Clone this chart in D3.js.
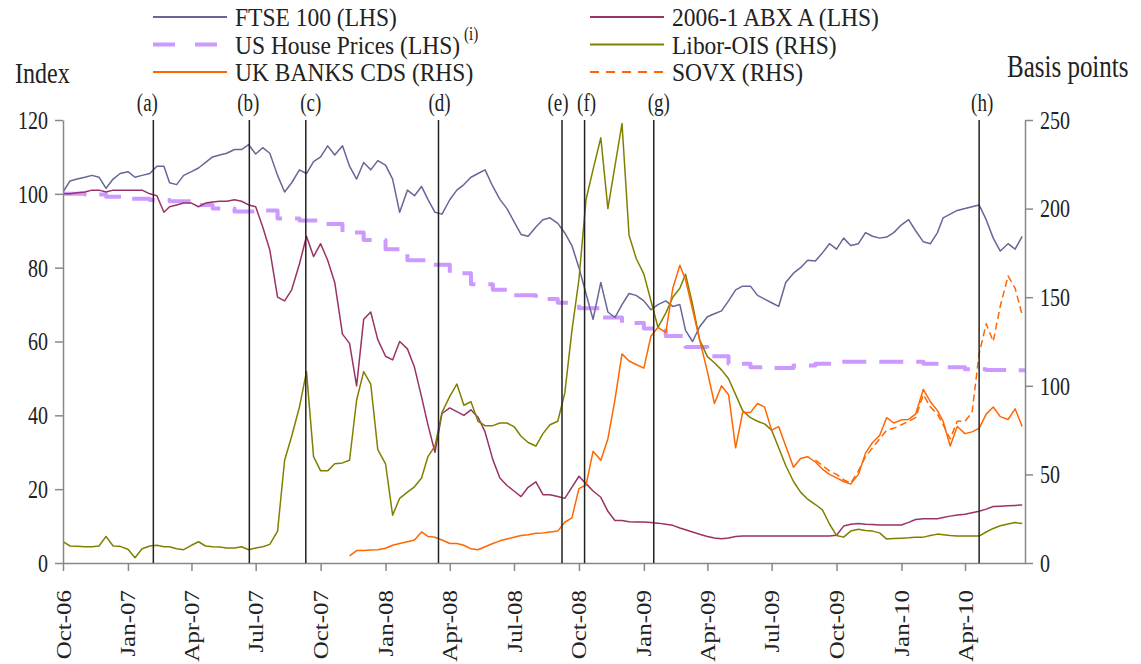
<!DOCTYPE html>
<html>
<head>
<meta charset="utf-8">
<script src="https://cdn.jsdelivr.net/npm/d3@7"></script>
<style>
  body { margin: 0; background: #fff; }
  svg { display: block; font-family: 'Liberation Serif', 'Times New Roman', serif; }
</style>
</head>
<body>
<svg id="chart"></svg>
<script>
// ---- data ----
// readings on the 1st, 11th and 21st of each month, Oct-06 .. Jun-10
let firstMonth = '2006-10', monthCount = 45;

let ftse = [ // index, LHS
  100.5, 103.5, 104,   104.5, 105, 104.5,   101.5, 104, 105.5,
  106, 104.5, 105,   105.5, 107.5, 107.5,   103, 102.5, 105,   106, 107, 108.5,
  110, 110.5, 111,   112, 112, 113.3,   110.8, 112.5, 111,   105, 100.5, 103,
  106.5, 105.5, 108.7,   110, 113, 110.5,   113, 107.5, 104,   108.5, 106.5, 109,
  107.8, 104, 95,   101, 99.5, 102,   98.5, 95, 94.5,   98.4, 101, 102.5,
  104.5, 105.5, 106.5,   102, 98.5, 96,   92.5, 89, 88.5,   91, 93, 93.5,
  92, 89.4, 86,   80, 73, 66,   76, 68, 66.5,   70, 73, 72.5,
  71, 68.6, 70,   71, 69.5, 70,   63, 60, 64,   66.7, 67.5, 68.3,
  71, 74, 75,   75, 72.5, 71.5,   70.5, 69.5, 76,   78.5, 80, 82,
  81.8, 84, 86.5,   85, 88, 86,   86.5, 89.5, 88.5,   88, 88.3, 89.5,
  91.6, 93, 90,   87, 86.5, 89.5,   93.5, 94.5, 95.5,   96, 96.5, 97,
  93, 88, 84.5,   86.5, 85, 88.5
];

let abx = [ // 2006-1 ABX A, LHS
  100, 100, 100.3,   100.5, 101, 101,   100.5, 101, 101,
  101, 101, 101,   100, 99.5, 95,   96.5, 97, 97.5,   97.5, 96.5, 97.5,
  97.8, 98, 98,   98.4, 98, 97,   96.5, 91, 84.8,   72, 71, 74,
  81, 88.5, 83,   86.5, 82, 76,   62, 59.5, 48,   66, 68, 60.5,
  56, 55, 60,   58, 53, 45,   37.5, 30, 40.5,   42, 41, 40,
  41.5, 39.5, 35.5,   28, 23, 21,   19.5, 18, 20.5,   22, 18.5, 18.5,
  18, 17.5, 20.5,   23.5, 21.5, 19.5,   17.8, 14, 11.5,   11.5, 11.2, 11.1,
  11.1, 11, 10.8,   10.5, 10.2, 9.5,   9, 8.4, 7.8,   7.2, 6.8, 6.6,
  6.8, 7.2, 7.3,   7.3, 7.3, 7.3,   7.3, 7.3, 7.3,   7.3, 7.3, 7.3,
  7.3, 7.3, 7.3,   7.5, 10, 10.5,   10.7, 10.5, 10.4,   10.3, 10.3, 10.3,
  10.3, 11, 11.8,   12, 12, 12,   12.3, 12.7, 13,   13.2, 13.6, 14,
  14.6, 15.3, 15.4,   15.5, 15.6, 15.7
];

let liborOis = [ // basis points, RHS
  12, 9.6, 9.4,   9.2, 9.2, 9.6,   15, 9.6, 9.4,
  7.8, 3, 8,   9.6, 10, 9.2,   9.2, 8, 7.5,   10, 12, 9.6,
  9.2, 9, 8.5,   8.5, 9.2, 7.5,   8.5, 9.2, 10.5,   18, 58, 71.5,
  88, 108, 60,   52, 52, 56,   56.5, 58, 92,   108, 101, 64,
  56, 27, 36.5,   40, 43, 48,   60, 66, 85,   94, 101, 89,
  91, 80, 77.5,   77.5, 79, 79,   77, 71.5, 68,   66, 73, 78,
  80, 96, 131,   160, 205, 222,   240, 200, 224,   248, 185, 172,
  163, 148, 133,   141, 150, 155,   163, 146, 126,   116.5, 113, 109,
  104, 95, 86,   82, 80, 78.5,   75, 65, 55,   46, 40, 36,
  33, 30, 22,   15.5, 14.6, 18,   19, 18.4, 18,   17, 13.5, 13.8,
  14, 14.2, 14.5,   14.6, 15.5, 16.3,   16, 15.5, 15.2,   15.2, 15.2, 15.2,
  17.5, 19.5, 21,   22, 22.8, 22.3
];

let ukBankCdsFrom = '2007-11-11';
let ukBankCds = [ // basis points, RHS
  4, 7,   7, 7.3, 7.5,
  8.3, 10, 11,   12, 13, 17.5,   15, 14.5, 13,   11, 11, 10,
  8, 7.5, 9.2,   11, 12.5, 13.5,   14.5, 15.5, 16,   16.8, 17, 17.5,
  18, 23, 25.5,   42, 44, 63,   58, 70, 92,   118, 114, 112,
  110, 128, 133,   130, 155, 168,   160, 143, 126,   108, 90, 100,
  95, 65, 85,   85, 90, 88,   75, 77, 66,   54, 59, 60,
  57, 53, 50,   48, 46, 44.5,   50, 62, 68,   72, 82, 79,
  80.8, 81, 84,   98, 91, 86,   80, 66, 77,   73, 74, 76,
  84, 88, 82.6,   81, 87, 77
];

let sovxFrom = '2009-09-01';
let sovx = [ // basis points, RHS
  58, 55, 52,   50, 47, 45,   52, 60, 65,   70, 75, 76,
  78, 80, 82,   95, 88, 84,   78, 70, 80,   80, 85, 118,
  135, 125, 145,   162, 155, 140
];

// monthly, first of month
let usHousePrices = [ // index, LHS
  100, 99.8, 99.2,
  98.7, 98.3, 98, 97, 96, 95.2, 95.5, 93.3, 92.8, 91.8, 89.5, 87.5,
  85, 82, 80.8, 78.5, 75.5, 74, 72.5, 71.5, 70.5, 69, 66.5, 65,
  63.5, 61.5, 58.5, 56, 54, 53, 52.8, 53.5, 54, 54.5, 54.5, 54.5,
  54.5, 54, 53, 52.5, 52.3, 52.2
];

let eventDates = ['2007-02-06', '2007-06-22', '2007-09-10', '2008-03-16',
                  '2008-09-07', '2008-10-09', '2009-01-15', '2010-04-21'];
let eventLabels = ['(a)', '(b)', '(c)', '(d)', '(e)', '(f)', '(g)', '(h)'];

let xTicks = ['2006-10-01', '2007-01-01', '2007-04-01', '2007-07-01', '2007-10-01',
              '2008-01-01', '2008-04-01', '2008-07-01', '2008-10-01', '2009-01-01',
              '2009-04-01', '2009-07-01', '2009-10-01', '2010-01-01', '2010-04-01'];
let leftTicks = [0, 20, 40, 60, 80, 100, 120];
let rightTicks = [0, 50, 100, 150, 200, 250];
let xStart = '2006-10-01', xEnd = '2010-06-25';

// ---- layout ----
let width = 1141, height = 664;
let plot = {left: 63, right: 1025, top: 120, bottom: 563};
let svg = d3.select('#chart').attr('width', width).attr('height', height);
let parse = d3.timeParse('%Y-%m-%d');
let ink = '#222';

let gridDates = [];
let m0 = d3.timeParse('%Y-%m')(firstMonth);
for (let m = 0; m < monthCount; m++) {
  for (let day of [1, 11, 21]) gridDates.push(new Date(m0.getFullYear(), m0.getMonth() + m, day));
}
let monthDates = d3.range(monthCount).map(m => new Date(m0.getFullYear(), m0.getMonth() + m, 1));

// scales
let xScale = d3.scaleTime().domain([parse(xStart), parse(xEnd)]).range([plot.left, plot.right]);
let yLeft = d3.scaleLinear().domain([0, 120]).range([plot.bottom, plot.top]);
let yRight = d3.scaleLinear().domain([0, 250]).range([plot.bottom, plot.top]);

let onGrid = (values, from) => {
  let i0 = from ? gridDates.findIndex(d => +d === +parse(from)) : 0;
  return values.map((v, i) => ({date: gridDates[i0 + i], v: v}));
};

let series = [
  {label: 'US House Prices (LHS)', color: '#cc99ff', width: 4, dash: '24,13', y: yLeft,
   pts: monthDates.map((d, i) => ({date: d, v: usHousePrices[i]})), step: true},
  {label: 'FTSE 100  (LHS)', color: '#666699', width: 1.5, dash: null, y: yLeft, pts: onGrid(ftse)},
  {label: '2006-1 ABX A (LHS)', color: '#993366', width: 1.5, dash: null, y: yLeft, pts: onGrid(abx)},
  {label: 'Libor-OIS (RHS)', color: '#808000', width: 1.5, dash: null, y: yRight, pts: onGrid(liborOis)},
  {label: 'UK BANKS CDS (RHS)', color: '#ff6600', width: 1.5, dash: null, y: yRight, pts: onGrid(ukBankCds, ukBankCdsFrom)},
  {label: 'SOVX (RHS)', color: '#ff6600', width: 1.5, dash: '7,4', y: yRight, pts: onGrid(sovx, sovxFrom)}
];

// text stretched vertically like the original
let addText = (str, x, y, size, anchor, sy) => svg.append('text')
  .attr('transform', `translate(${x},${y}) scale(1,${sy || 1.3})`)
  .attr('font-size', size)
  .attr('text-anchor', anchor || 'start')
  .attr('fill', ink)
  .text(str);

// ---- lines ----
svg.append('clipPath').attr('id', 'plotClip').append('rect')
  .attr('x', plot.left).attr('y', plot.top - 2)
  .attr('width', plot.right - plot.left).attr('height', plot.bottom - plot.top + 2);

let lines = svg.append('g').attr('clip-path', 'url(#plotClip)');
series.forEach(s => {
  let pts = s.step ? s.pts.concat([{date: parse(xEnd), v: s.pts[s.pts.length - 1].v}]) : s.pts;
  let line = d3.line()
    .x(d => xScale(d.date))
    .y(d => s.y(d.v))
    .curve(s.step ? d3.curveStepAfter : d3.curveLinear);
  lines.append('path')
    .attr('d', line(pts))
    .attr('fill', 'none')
    .attr('stroke', s.color)
    .attr('stroke-width', s.width)
    .attr('stroke-dasharray', s.dash)
    .attr('stroke-linejoin', 'round');
});

// ---- axes ----
let styleAxis = (g) => {
  g.attr('font-size', 20).attr('font-family', null);
  g.select('.domain').attr('stroke', '#888').attr('stroke-width', 1.5);
  g.selectAll('.tick line').attr('stroke', '#888').attr('stroke-width', 1.5);
  g.selectAll('.tick text').attr('fill', ink);
};

svg.append('g')
  .attr('transform', `translate(0,${plot.bottom})`)
  .call(d3.axisBottom(xScale).tickValues(xTicks.map(parse)).tickSize(8).tickSizeOuter(0)
    .tickFormat(d3.timeFormat('%b-%y')))
  .call(styleAxis)
  .call(g => g.selectAll('.tick text')
    .attr('font-size', 20)
    .attr('text-anchor', 'end')
    .attr('transform', 'rotate(-90) scale(1.25,1)')
    .attr('x', -21.6).attr('y', 0).attr('dy', '0.35em'));

svg.append('g')
  .attr('transform', `translate(${plot.left},0)`)
  .call(d3.axisLeft(yLeft).tickValues(leftTicks).tickSize(8).tickSizeOuter(0).tickPadding(7))
  .call(styleAxis)
  .call(g => g.selectAll('.tick text').attr('transform', 'scale(1,1.3)'));

svg.append('g')
  .attr('transform', `translate(${plot.right},0)`)
  .call(d3.axisRight(yRight).tickValues(rightTicks).tickSize(8).tickSizeOuter(0).tickPadding(7))
  .call(styleAxis)
  .call(g => g.selectAll('.tick text').attr('transform', 'scale(1,1.3)'));

// ---- event lines ----
let labelNudge = [-6, -1, 5, 1, -4, 2, 5, 3];
eventDates.forEach((d, i) => {
  let x = xScale(parse(d));
  svg.append('line')
    .attr('x1', x).attr('x2', x)
    .attr('y1', plot.top).attr('y2', plot.bottom)
    .attr('stroke', ink).attr('stroke-width', 1.5);
  addText(eventLabels[i], x + labelNudge[i], 111, 19, 'middle');
});

// ---- titles and legend ----
addText('Index', 15, 83, 24, 'start', 1.25);
addText('Basis points', 1007, 77, 25, 'start', 1.25);

let legendCols = [
  {x: 153, items: [series[1], series[0], series[4]]},
  {x: 590, items: [series[2], series[3], series[5]]}
];
legendCols.forEach(col => {
  col.items.forEach((s, r) => {
    let y = 17 + r * 27.5;
    svg.append('line')
      .attr('x1', col.x).attr('x2', col.x + 74)
      .attr('y1', y).attr('y2', y)
      .attr('stroke', s.color)
      .attr('stroke-width', s.width === 4 ? 4 : 2)
      .attr('stroke-dasharray', s.width === 4 ? '22,20' : (s.dash ? '9,7' : null));
    addText(s.label, col.x + 82, y + 9, 23.5, 'start', 1.07);
  });
});
addText('(i)', 464, 40, 15, 'start', 1.2);
</script>
</body>
</html>
